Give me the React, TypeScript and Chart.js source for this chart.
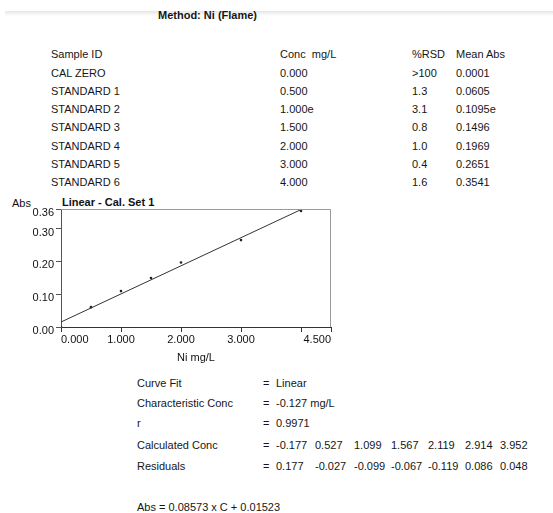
import React, { useEffect, useRef } from "react";
import { Chart, registerables } from "chart.js";

Chart.register(...registerables);

const methodTitle = "Method: Ni (Flame)";
const tableHeaders = ["Sample ID", "Conc  mg/L", "%RSD", "Mean Abs"];
const sampleIds = ["CAL ZERO", "STANDARD 1", "STANDARD 2", "STANDARD 3", "STANDARD 4", "STANDARD 5", "STANDARD 6"];
const concLabels = ["0.000", "0.500", "1.000e", "1.500", "2.000", "3.000", "4.000"];
const rsdLabels = [">100", "1.3", "3.1", "0.8", "1.0", "0.4", "1.6"];
const meanAbsLabels = ["0.0001", "0.0605", "0.1095e", "0.1496", "0.1969", "0.2651", "0.3541"];

const concValues = [0, 0.5, 1.0, 1.5, 2.0, 3.0, 4.0];
const absValues = [0.0001, 0.0605, 0.1095, 0.1496, 0.1969, 0.2651, 0.3541];
const fitX = [0, 4];
const fitY = [0.0152, 0.3582];

const xTicks = [0, 1, 2, 3, 4, 4.5];
const xTickLabels = ["0.000", "1.000", "2.000", "3.000", "", "4.500"];
const yTicks = [0, 0.1, 0.2, 0.3, 0.36];
const yTickLabels = ["0.00", "0.10", "0.20", "0.30", "0.36"];

const yAxisLabel = "Abs";
const chartTitle = "Linear - Cal. Set 1";
const xAxisTitle = "Ni mg/L";

const statLabels = ["Curve Fit", "Characteristic Conc", "r", "Calculated Conc", "Residuals"];
const curveFit = "Linear";
const characteristicConc = "-0.127 mg/L";
const rValue = "0.9971";
const calcConc = ["-0.177", "0.527", "1.099", "1.567", "2.119", "2.914", "3.952"];
const residuals = ["0.177", "-0.027", "-0.099", "-0.067", "-0.119", "0.086", "0.048"];
const equation = "Abs = 0.08573 x C + 0.01523";

const FONT = "'Liberation Sans', Arial, Helvetica, sans-serif";

const tableColX = [51, 280, 412, 456];
const tableHeaderY = 54;
const tableRowY = [72.5, 90.7, 108.8, 127.2, 145.5, 163.8, 182.2];
const statRowY = [382.7, 403.3, 423.3, 445, 466];
const valueColX = [276, 315, 354, 391, 428, 465, 500];

function T(props: { x: number; cy: number; children: any; bold?: boolean; size?: number; color?: string }) {
  const size = props.size ?? 11;
  const lh = 14;
  return (
    <div
      style={{
        position: "absolute",
        left: props.x,
        top: props.cy - lh / 2,
        lineHeight: lh + "px",
        fontSize: size,
        fontFamily: FONT,
        fontWeight: props.bold ? "bold" : "normal",
        color: props.color ?? "#161616",
        whiteSpace: "pre",
      }}
    >
      {props.children}
    </div>
  );
}

const frame = {
  id: "frame",
  afterDraw(chart: any) {
    const { ctx, chartArea } = chart;
    ctx.save();
    ctx.strokeStyle = "#9a9a9a";
    ctx.lineWidth = 1;
    ctx.beginPath();
    ctx.moveTo(chartArea.left, chartArea.top + 0.5);
    ctx.lineTo(chartArea.right - 0.5, chartArea.top + 0.5);
    ctx.lineTo(chartArea.right - 0.5, chartArea.bottom);
    ctx.stroke();
    ctx.restore();
  },
};

function CalChart() {
  const ref = useRef<HTMLCanvasElement>(null);
  useEffect(() => {
    const chart = new Chart(ref.current!, {
      type: "scatter",
      data: {
        datasets: [
          {
            type: "line",
            data: fitX.map((x, i) => ({ x, y: fitY[i] })),
            borderColor: "#333",
            borderWidth: 1,
            pointRadius: 0,
            showLine: true,
          } as any,
          {
            data: concValues.map((x, i) => ({ x, y: absValues[i] })),
            backgroundColor: "#222",
            borderWidth: 0,
            pointRadius: 1.3,
          },
        ],
      },
      options: {
        animation: false,
        responsive: false,
        devicePixelRatio: 1,
        layout: { padding: { top: 14, right: 14, left: 0, bottom: 0 } },
        plugins: { legend: { display: false }, tooltip: { enabled: false } },
        scales: {
          x: {
            type: "linear",
            min: 0,
            max: 4.5,
            afterBuildTicks: (s: any) => {
              s.ticks = xTicks.map((v) => ({ value: v }));
            },
            afterFit: (s: any) => {
              s.height = 38;
            },
            border: { display: true, color: "#333", width: 1 },
            grid: { display: true, drawOnChartArea: false, drawTicks: true, tickLength: 5, color: "#333" },
            ticks: {
              align: "inner",
              padding: 1,
              autoSkip: false,
              maxRotation: 0,
              color: "#111",
              font: { family: FONT, size: 11 },
              callback: (_v: any, i: number) => xTickLabels[i],
            },
            title: {
              display: true,
              text: xAxisTitle,
              color: "#111",
              font: { family: FONT, size: 11 },
              padding: { top: 1, bottom: 0 },
            },
          },
          y: {
            type: "linear",
            min: 0,
            max: 0.36,
            afterBuildTicks: (s: any) => {
              s.ticks = yTicks.map((v) => ({ value: v }));
            },
            afterFit: (s: any) => {
              s.width = 61;
            },
            border: { display: true, color: "#555", width: 1 },
            grid: { display: true, drawOnChartArea: false, drawTicks: true, tickLength: 5, color: "#555" },
            ticks: {
              padding: 2,
              labelOffset: 4,
              autoSkip: false,
              color: "#111",
              font: { family: FONT, size: 11 },
              callback: (_v: any, i: number) => yTickLabels[i],
            },
          },
        },
      } as any,
      plugins: [frame],
    });
    return () => chart.destroy();
  }, []);
  return (
    <canvas
      ref={ref}
      width={345}
      height={170}
      style={{ position: "absolute", left: 0, top: 195, width: 345, height: 170 }}
    />
  );
}

export default function App() {
  return (
    <div
      style={{
        position: "absolute",
        left: 0,
        top: 0,
        width: 553,
        height: 513,
        background: "#fff",
        overflow: "hidden",
      }}
    >
      <div
        style={{
          position: "absolute",
          left: 5,
          top: 11,
          width: 548,
          height: 5,
          background: "linear-gradient(#e6e6e6, #ffffff)",
        }}
      />
      <T x={158} cy={15} bold>
        {methodTitle}
      </T>

      {tableHeaders.map((h, j) => (
        <T key={h} x={tableColX[j]} cy={tableHeaderY}>{h}</T>
      ))}
      {sampleIds.map((s, i) => (
        <React.Fragment key={s}>
          <T x={tableColX[0]} cy={tableRowY[i]}>{s}</T>
          <T x={tableColX[1]} cy={tableRowY[i]}>{concLabels[i]}</T>
          <T x={tableColX[2]} cy={tableRowY[i]}>{rsdLabels[i]}</T>
          <T x={tableColX[3]} cy={tableRowY[i]}>{meanAbsLabels[i]}</T>
        </React.Fragment>
      ))}

      <T x={12} cy={203} color="#111">{yAxisLabel}</T>
      <T x={62} cy={201.5} bold color="#111">{chartTitle}</T>
      <CalChart />

      {statLabels.map((s, i) => (
        <T key={s} x={137} cy={statRowY[i]}>{s}</T>
      ))}
      {statRowY.map((y, i) => (
        <T key={"eq" + i} x={263} cy={y}>=</T>
      ))}
      <T x={276} cy={statRowY[0]}>{curveFit}</T>
      <T x={276} cy={statRowY[1]}>{characteristicConc}</T>
      <T x={276} cy={statRowY[2]}>{rValue}</T>
      {calcConc.map((v, i) => (
        <T key={"c" + i} x={valueColX[i]} cy={statRowY[3]}>{v}</T>
      ))}
      {residuals.map((v, i) => (
        <T key={"r" + i} x={valueColX[i]} cy={statRowY[4]}>{v}</T>
      ))}
      <T x={137} cy={506.7}>{equation}</T>
    </div>
  );
}
